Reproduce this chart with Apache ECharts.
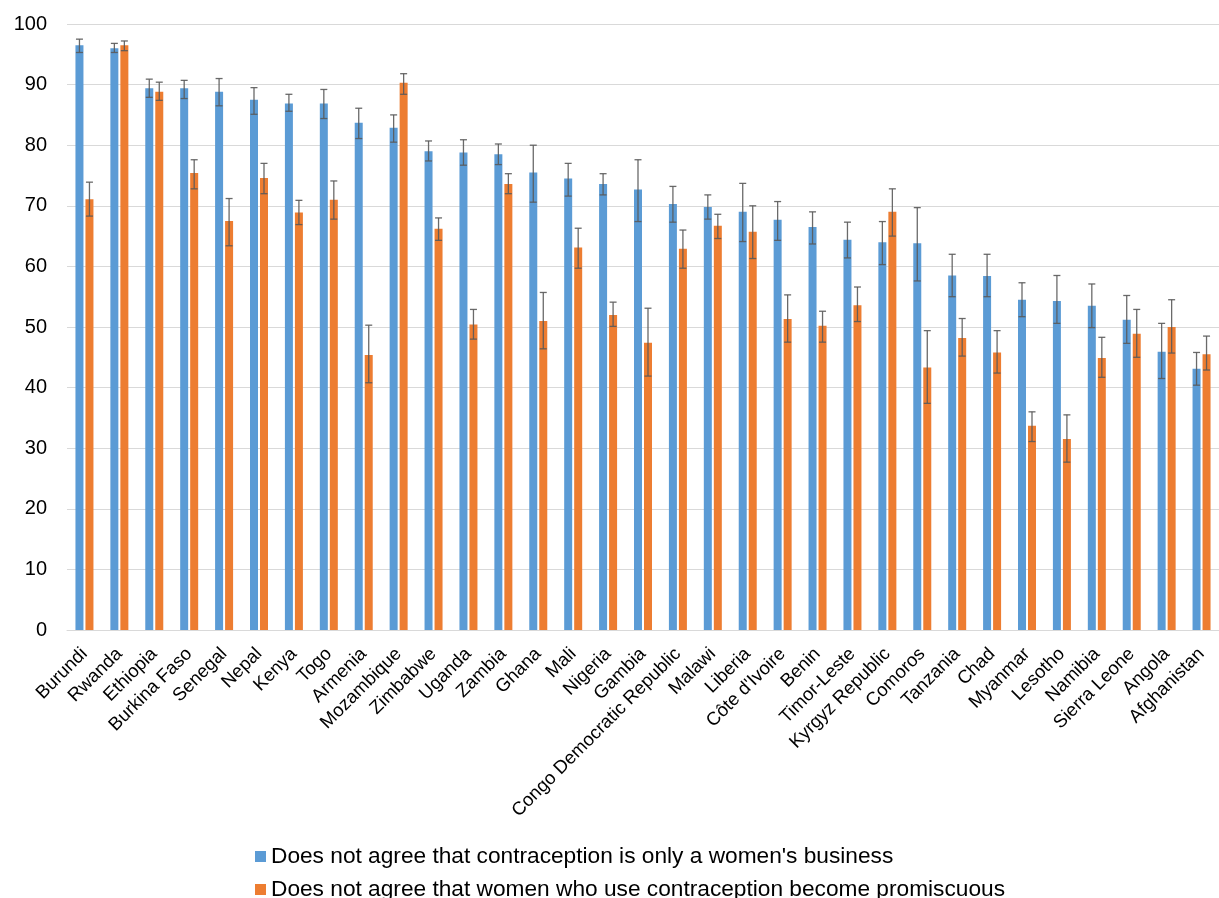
<!DOCTYPE html>
<html>
<head>
<meta charset="utf-8">
<script src="https://cdn.jsdelivr.net/npm/echarts@6/dist/echarts.min.js"></script>
<style>
html,body{margin:0;padding:0;background:#fff;}
#chart{width:1219px;height:898px;}
</style>
</head>
<body>
<div id="chart"></div>
<script>
const categories = ["Burundi","Rwanda","Ethiopia","Burkina Faso","Senegal","Nepal","Kenya","Togo","Armenia","Mozambique","Zimbabwe","Uganda","Zambia","Ghana","Mali","Nigeria","Gambia","Congo Democratic Republic","Malawi","Liberia","Côte d'Ivoire","Benin","Timor-Leste","Kyrgyz Republic","Comoros","Tanzania","Chad","Myanmar","Lesotho","Namibia","Sierra Leone","Angola","Afghanistan"];

const businessValues = [96.5,96.0,89.4,89.4,88.8,87.5,86.9,86.9,83.7,82.9,79.0,78.8,78.5,75.5,74.5,73.6,72.7,70.3,69.8,69.0,67.7,66.5,64.4,64.0,63.8,58.5,58.4,54.5,54.3,53.5,51.2,45.9,43.1];
const businessLow    = [95.3,95.3,87.9,87.7,86.5,85.1,85.6,84.4,81.1,80.5,77.4,76.7,76.8,70.6,71.6,71.8,67.4,67.3,67.8,64.1,64.3,63.7,61.4,60.3,57.6,55.0,55.0,51.7,50.6,49.9,47.3,41.5,40.4];
const businessHigh   = [97.5,96.8,90.9,90.7,91.0,89.5,88.4,89.2,86.1,85.0,80.7,80.9,80.2,80.0,77.0,75.3,77.6,73.2,71.8,73.7,70.7,69.0,67.3,67.4,69.7,62.0,62.0,57.3,58.5,57.1,55.2,50.6,45.8];

const promiscuousValues = [71.1,96.5,88.8,75.4,67.5,74.6,68.9,71.0,45.4,90.3,66.2,50.4,73.6,51.0,63.1,52.0,47.4,62.9,66.7,65.7,51.3,50.2,53.6,69.0,43.3,48.2,45.8,33.7,31.5,44.9,48.9,50.0,45.5];
const promiscuousLow    = [68.3,95.6,87.4,72.8,63.4,72.0,66.9,67.8,40.8,88.4,64.3,48.0,72.0,46.4,59.7,50.1,41.9,59.7,64.6,61.3,47.5,47.5,50.9,65.0,37.4,45.2,42.4,31.1,27.7,41.7,45.0,45.7,42.9];
const promiscuousHigh   = [73.9,97.2,90.4,77.6,71.2,77.0,70.9,74.1,50.3,91.8,68.0,52.9,75.3,55.7,66.3,54.1,53.1,66.0,68.6,70.0,55.3,52.6,56.6,72.8,49.4,51.4,49.4,36.0,35.5,48.3,52.9,54.5,48.5];

const yTicks = [0,10,20,30,40,50,60,70,80,90,100];

const seriesNames = ["Does not agree that contraception is only a women's business","Does not agree that women who use contraception become promiscuous"];

const FONT = "'Liberation Sans', Arial, sans-serif";

function errData(low, high){
  return categories.map((c,i)=>[i, low[i], high[i]]);
}
function errRender(offset){
  return function(params, api){
    const i = api.value(0);
    const lo = api.coord([i, api.value(1)]);
    const hi = api.coord([i, api.value(2)]);
    const x = lo[0] + offset;
    const cap = 3.5;
    const style = {stroke:'#5a5a5a', lineWidth:1.3, opacity:0.9};
    return {type:'group', children:[
      {type:'line', shape:{x1:x,y1:hi[1],x2:x,y2:lo[1]}, style:style},
      {type:'line', shape:{x1:x-cap,y1:hi[1],x2:x+cap,y2:hi[1]}, style:style},
      {type:'line', shape:{x1:x-cap,y1:lo[1],x2:x+cap,y2:lo[1]}, style:style}
    ]};
  };
}

function legendFor(name, top){
  return {
    left:255, top:top, padding:0,
    itemWidth:11, itemHeight:11, itemGap:0,
    icon:'rect',
    data:[name],
    textStyle:{fontSize:22.7, color:'#000', fontFamily:FONT}
  };
}

const chart = echarts.init(document.getElementById('chart'), null, {renderer:'canvas'});
chart.setOption({
  animation:false,
  backgroundColor:'#ffffff',
  textStyle:{fontFamily:FONT},
  grid:{left:67, right:-14, top:24, bottom:268, containLabel:false},
  legend:[legendFor(seriesNames[0], 845), legendFor(seriesNames[1], 878)],
  xAxis:{
    type:'category', data:categories,
    axisLine:{lineStyle:{color:'#d9d9d9', width:1}},
    axisTick:{show:false},
    axisLabel:{rotate:45, interval:0, fontSize:18.5, color:'#000', margin:21, fontFamily:FONT}
  },
  yAxis:{
    type:'value', min:yTicks[0], max:yTicks[yTicks.length-1], interval:10,
    axisLine:{show:false}, axisTick:{show:false},
    splitLine:{lineStyle:{color:'#d9d9d9', width:1}},
    axisLabel:{fontSize:20, color:'#000', margin:20, fontFamily:FONT}
  },
  series:[
    {name:seriesNames[0], type:'bar', data:businessValues, barWidth:8, barGap:'25%',
     itemStyle:{color:'#5B9BD5'}},
    {name:seriesNames[1], type:'bar', data:promiscuousValues, barWidth:8, barGap:'25%',
     itemStyle:{color:'#ED7D31'}},
    {type:'custom', data:errData(businessLow,businessHigh), renderItem:errRender(-5), z:5,
     encode:{x:0,y:[1,2]}, tooltip:{show:false}},
    {type:'custom', data:errData(promiscuousLow,promiscuousHigh), renderItem:errRender(5), z:5,
     encode:{x:0,y:[1,2]}, tooltip:{show:false}}
  ]
});
</script>
</body>
</html>
